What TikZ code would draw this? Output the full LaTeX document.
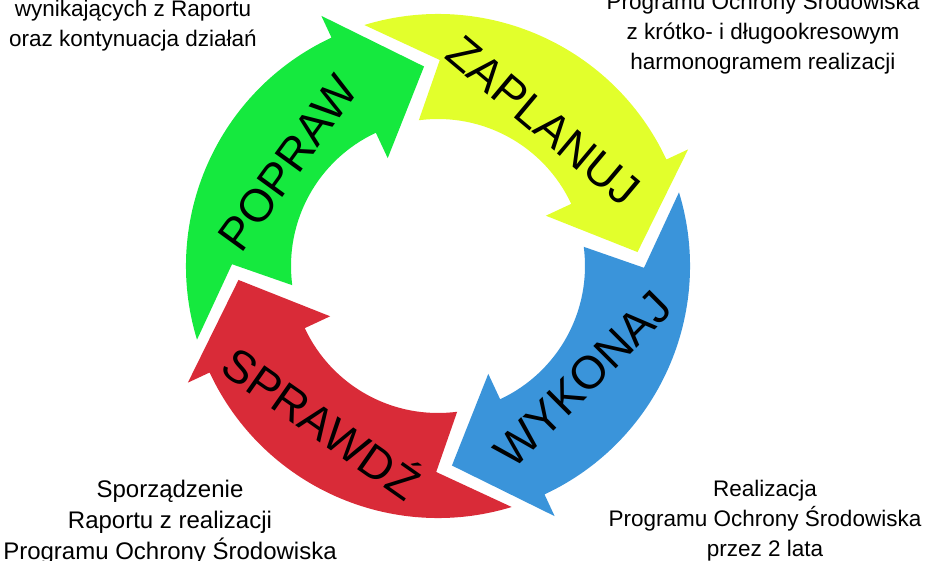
\documentclass[tikz,border=0pt]{standalone}
\usepackage{fontspec}
\setmainfont{Liberation Sans}
\usepackage{xcolor}
\usepackage{tikz}
\usetikzlibrary{positioning}
\definecolor{cyclegreen}{RGB}{21, 233, 62}
\definecolor{cycleyellow}{RGB}{226, 255, 44}
\definecolor{cycleblue}{RGB}{58, 148, 218}
\definecolor{cyclered}{RGB}{217, 43, 56}

\begin{document}
\begin{tikzpicture}[x=1pt, y=1pt,
    stage/.style={font=\fontsize{46}{46}\selectfont, inner sep=0pt},
    note/.style={font=\fontsize{22.5}{30}\selectfont, align=center, inner sep=0pt, anchor=base}]
            \useasboundingbox (-438,-294) rectangle (487,266);
            \clip (-438,-294) rectangle (487,266);

            % Circular arrows
            \foreach \rot/\col in {0/cyclegreen, -90/cycleyellow, -180/cycleblue, 90/cyclered} {
                \begin{scope}[rotate=\rot]
                    \fill[\col] (197:252) arc[start angle=197, end angle=115, radius=252]
                        -- (115:276) -- (94:200) -- (115:119) -- (115:147)
                        arc[start angle=115, end angle=187.5, radius=147] -- (179.5:206) -- cycle;
                \end{scope}
            }

            % Stage labels
            \node[stage, rotate=54] (popraw) at (145.5:182) {POPRAW};
            \node[stage, rotate=-40] (zaplanuj) at (54:179) {ZAPLANUJ};
            \node[stage, rotate=45] (wykonaj) at (-38:184) {WYKONAJ};
            \node[stage, rotate=-35] (sprawdz) at (233.4:193) {SPRAWDŹ};

            % Notes (anchored at the baseline of their last line)
            \node[note] (poprawNote) at (-305,219) {wynikających z Raportu\\oraz kontynuacja działań};
            \node[note] (zaplanujNote) at (325,196) {Programu Ochrony Środowiska\\z krótko- i długookresowym\\harmonogramem realizacji};
            \node[note] (wykonajNote) at (327,-290) {Realizacja\\Programu Ochrony Środowiska\\przez 2 lata};
            \node[note, font=\fontsize{24}{31}\selectfont] (sprawdzNote) at (-268,-293) {Sporządzenie\\Raportu z realizacji\\Programu Ochrony Środowiska};
        \end{tikzpicture}
\end{document}
